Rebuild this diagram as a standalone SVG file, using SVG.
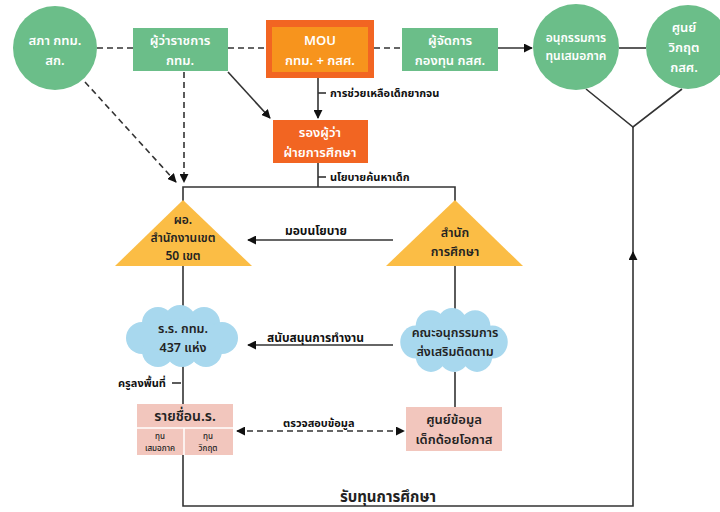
<svg xmlns="http://www.w3.org/2000/svg" xmlns:xlink="http://www.w3.org/1999/xlink" width="720" height="512" viewBox="0 0 720 512">
<defs>
<style>
text{font-family:"Noto Sans Thai","Noto Sans Thai UI","Noto Sans","DejaVu Sans",sans-serif;text-anchor:middle}
.w{fill:#ffffff;font-size:13px;font-weight:600}
.d{fill:#222222;font-size:12.5px;font-weight:600}
.lbl{fill:#111111;font-size:11px;font-weight:700;text-anchor:start}
.green{fill:#6bbe89}
.tri{fill:#fbbd45}
.cloud{fill:#a8d8ee}
.pink{fill:#f2c6bd}
.ln{stroke:#333333;stroke-width:1.6;fill:none}
.dash{stroke:#333333;stroke-width:1.6;fill:none;stroke-dasharray:6 4}
</style>
<marker id="ah" viewBox="0 0 10 10" refX="9" refY="5" markerWidth="9" markerHeight="9" markerUnits="userSpaceOnUse" orient="auto-start-reverse">
<path d="M0,0 L10,5 L0,10 z" fill="#111111"/>
</marker>
<g id="cloudshape">
<circle cx="-40" cy="2" r="16"/>
<circle cx="-24" cy="-13" r="16"/>
<circle cx="-2" cy="-15" r="16"/>
<circle cx="22" cy="-13" r="16"/>
<circle cx="40" cy="2" r="16"/>
<circle cx="24" cy="15" r="16"/>
<circle cx="0" cy="15" r="16"/>
<circle cx="-24" cy="15" r="16"/>
<ellipse cx="0" cy="0" rx="42" ry="18"/>
</g>
</defs>
<rect width="720" height="512" fill="#ffffff"/>

<g id="connectors">
<line class="dash" x1="97" y1="48" x2="133" y2="48"/>
<line class="dash" x1="228" y1="48" x2="266" y2="48"/>
<line class="dash" x1="374" y1="48" x2="402" y2="48"/>
<line class="ln" x1="498" y1="48" x2="532" y2="48" marker-end="url(#ah)"/>
<line class="ln" x1="619" y1="48" x2="646" y2="48"/>
<polyline class="ln" points="586,89 633,127 682,89"/>
<line class="dash" x1="85" y1="82" x2="176" y2="182" marker-end="url(#ah)"/>
<line class="dash" x1="184" y1="72" x2="184" y2="182" marker-end="url(#ah)"/>
<line class="ln" x1="228" y1="72" x2="270" y2="118" marker-end="url(#ah)"/>
<line class="ln" x1="318" y1="78" x2="318" y2="118" marker-end="url(#ah)"/>
<line class="ln" x1="318" y1="93" x2="326" y2="93"/>
<line class="ln" x1="318" y1="163" x2="318" y2="187"/>
<line class="ln" x1="318" y1="177" x2="326" y2="177"/>
<polyline class="ln" points="183,203 183,187 455,187 455,203"/>
<line class="ln" x1="393" y1="240" x2="248" y2="240" marker-end="url(#ah)"/>
<line class="ln" x1="393" y1="345" x2="248" y2="345" marker-end="url(#ah)"/>
<line class="ln" x1="183" y1="266" x2="183" y2="306"/>
<line class="ln" x1="455" y1="266" x2="455" y2="310"/>
<line class="ln" x1="183" y1="366" x2="183" y2="404"/>
<line class="ln" x1="172" y1="383" x2="181" y2="383"/>
<line class="ln" x1="455" y1="372" x2="455" y2="407"/>
<line class="dash" x1="237" y1="431" x2="404" y2="431" marker-start="url(#ah)" marker-end="url(#ah)"/>
<polyline class="ln" points="183,455 183,506 633,506 633,252"/>
<line class="ln" x1="633" y1="258" x2="633" y2="252" marker-end="url(#ah)"/>
<line class="ln" x1="633" y1="252" x2="633" y2="127"/>
<text class="lbl" x="330" y="97">การช่วยเหลือเด็กยากจน</text>
<text class="lbl" x="330" y="181">นโยบายค้นหาเด็ก</text>
<text class="lbl" x="285" y="235" style="font-size:12px">มอบนโยบาย</text>
<text class="lbl" x="267" y="342" style="font-size:12px">สนับสนุนการทำงาน</text>
<text class="lbl" x="118" y="387">ครูลงพื้นที่</text>
<text class="lbl" x="283" y="427">ตรวจสอบข้อมูล</text>
<text class="d" x="388" y="502" style="font-size:15px;font-weight:700">รับทุนการศึกษา</text>
</g>

<g id="node-sapha">
<circle class="green" cx="55" cy="48" r="42"/>
<text class="w" x="55" y="45">สภา กทม.</text>
<text class="w" x="55" y="65">สก.</text>
</g>

<g id="node-governor">
<rect class="green" x="133" y="28" width="95" height="43"/>
<text class="w" x="180" y="45">ผู้ว่าราชการ</text>
<text class="w" x="180" y="65">กทม.</text>
</g>

<g id="node-mou">
<rect x="266" y="20" width="108" height="58" fill="#f26522"/>
<rect x="272" y="27" width="96" height="45" fill="#f7941d"/>
<text class="w" x="320" y="45">MOU</text>
<text class="w" x="320" y="65">กทม. + กสศ.</text>
</g>

<g id="node-fund-manager">
<rect class="green" x="402" y="28" width="96" height="43"/>
<text class="w" x="450" y="45">ผู้จัดการ</text>
<text class="w" x="450" y="65">กองทุน กสศ.</text>
</g>

<g id="node-equity-committee">
<circle class="green" cx="576" cy="47" r="43"/>
<text class="w" x="576" y="42" style="font-size:12px">อนุกรรมการ</text>
<text class="w" x="576" y="60" style="font-size:12px">ทุนเสมอภาค</text>
</g>

<g id="node-crisis-center">
<circle class="green" cx="688" cy="47" r="42"/>
<text class="w" x="684" y="32">ศูนย์</text>
<text class="w" x="684" y="52">วิกฤต</text>
<text class="w" x="684" y="72">กสศ.</text>
</g>

<g id="node-deputy">
<rect x="273" y="120" width="95" height="43" fill="#f26522"/>
<text class="w" x="320" y="137">รองผู้ว่า</text>
<text class="w" x="320" y="157">ฝ่ายการศึกษา</text>
</g>

<g id="node-district">
<polygon class="tri" points="183,200 252,266 115,266"/>
<text class="d" x="183" y="224" style="font-size:12px">ผอ.</text>
<text class="d" x="183" y="242" style="font-size:12px">สำนักงานเขต</text>
<text class="d" x="183" y="260" style="font-size:12px">50 เขต</text>
</g>

<g id="node-education-office">
<polygon class="tri" points="455,200 523,266 386,266"/>
<text class="d" x="455" y="237">สำนัก</text>
<text class="d" x="455" y="256">การศึกษา</text>
</g>

<g id="node-schools">
<use xlink:href="#cloudshape" class="cloud" transform="translate(182,336)"/>
<text class="d" x="183" y="333">ร.ร. กทม.</text>
<text class="d" x="183" y="352">437 แห่ง</text>
</g>

<g id="node-subcommittee">
<use xlink:href="#cloudshape" class="cloud" transform="translate(454,340) scale(0.96,1.03)"/>
<text class="d" x="455" y="337">คณะอนุกรรมการ</text>
<text class="d" x="455" y="356">ส่งเสริมติดตาม</text>
</g>

<g id="node-student-list">
<rect class="pink" x="137" y="404" width="96" height="51"/>
<line x1="137" y1="428" x2="233" y2="428" stroke="#ffffff" stroke-width="1.5"/>
<line x1="184" y1="428" x2="184" y2="455" stroke="#ffffff" stroke-width="1.5"/>
<text class="d" x="185" y="421" style="font-size:14px">รายชื่อน.ร.</text>
<text class="d" x="160" y="439" style="font-size:8px;font-weight:500">ทุน</text>
<text class="d" x="160" y="451" style="font-size:8px;font-weight:500">เสมอภาค</text>
<text class="d" x="208" y="439" style="font-size:8px;font-weight:500">ทุน</text>
<text class="d" x="208" y="451" style="font-size:8px;font-weight:500">วิกฤต</text>
</g>

<g id="node-data-center">
<rect class="pink" x="406" y="407" width="96" height="44"/>
<text class="d" x="454" y="424" style="font-size:13px">ศูนย์ข้อมูล</text>
<text class="d" x="454" y="444" style="font-size:13px">เด็กด้อยโอกาส</text>
</g>
</svg>
